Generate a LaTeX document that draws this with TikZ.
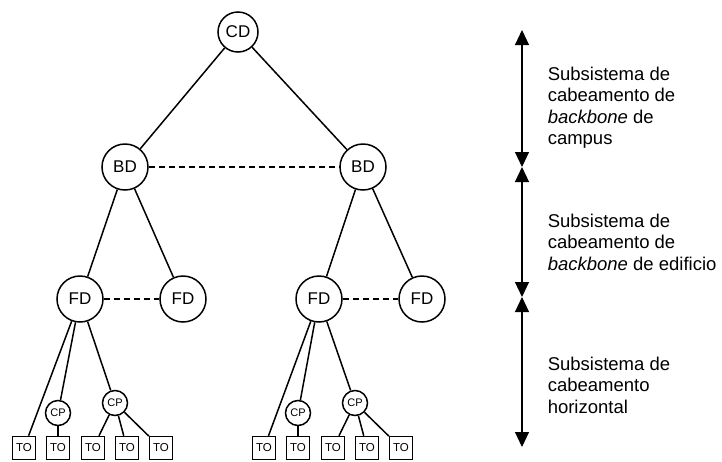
\documentclass[tikz,border=0pt]{standalone}
\usepackage{fontspec}
\setmainfont{Liberation Sans}
\usetikzlibrary{arrows.meta}

\begin{document}
\begin{tikzpicture}[x=1pt, y=-1pt, line width=1.5pt,
  dist/.style={circle, draw, minimum size=46pt, inner sep=0pt,
    font=\fontsize{17}{17}\selectfont},
  cpnode/.style={circle, draw, minimum size=25pt, inner sep=0pt,
    font=\fontsize{11}{11}\selectfont},
  tonode/.style={rectangle, draw, minimum size=23pt, inner sep=0pt,
    font=\fontsize{11.5}{11.5}\selectfont},
  link/.style={draw},
  peer/.style={draw, dash pattern=on 6pt off 4pt},
  span/.style={draw, line width=1.1pt,
    {Triangle[length=15pt,width=14pt]}-{Triangle[length=15pt,width=14pt]}},
  caption/.style={anchor=north west, inner sep=0pt, align=left,
    font=\fontsize{18.5}{21.5}\selectfont}]

\useasboundingbox (0,0) rectangle (722,461);

% campus and building distributors
\node[dist, minimum size=40pt] (cd) at (238,32) {CD};
\node[dist] (bd1) at (125,167) {BD};
\node[dist] (bd2) at (363,167) {BD};

% floor distributors
\node[dist] (fd1) at (80,299) {FD};
\node[dist] (fd2) at (183,299) {FD};
\node[dist] (fd3) at (319,299) {FD};
\node[dist] (fd4) at (422,299) {FD};

% consolidation points
\node[cpnode] (cp1) at (58,413) {CP};
\node[cpnode] (cp2) at (115,403) {CP};
\node[cpnode] (cp3) at (298,413) {CP};
\node[cpnode] (cp4) at (355,403) {CP};

% telecommunication outlets
\node[tonode] (to1) at (24,448) {TO};
\node[tonode] (to2) at (58,448) {TO};
\node[tonode] (to3) at (93,448) {TO};
\node[tonode] (to4) at (127,448) {TO};
\node[tonode] (to5) at (161,448) {TO};
\node[tonode] (to6) at (264,448) {TO};
\node[tonode] (to7) at (298,448) {TO};
\node[tonode] (to8) at (333,448) {TO};
\node[tonode] (to9) at (367,448) {TO};
\node[tonode] (to10) at (401,448) {TO};

% tree links
\draw[link] (cd) -- (bd1);
\draw[link] (cd) -- (bd2);
\draw[link] (bd1) -- (fd1);
\draw[link] (bd1) -- (fd2);
\draw[link] (bd2) -- (fd3);
\draw[link] (bd2) -- (fd4);

\draw[link] (fd1) -- (to1);
\draw[link] (fd1) -- (cp1);
\draw[link] (fd1) -- (cp2);
\draw[link] (cp1) -- (to2);
\draw[link] (cp2) -- (to3);
\draw[link] (cp2) -- (to4);
\draw[link] (cp2) -- (to5);

\draw[link] (fd3) -- (to6);
\draw[link] (fd3) -- (cp3);
\draw[link] (fd3) -- (cp4);
\draw[link] (cp3) -- (to7);
\draw[link] (cp4) -- (to8);
\draw[link] (cp4) -- (to9);
\draw[link] (cp4) -- (to10);

% optional peer links
\draw[peer] (bd1) -- (bd2);
\draw[peer] (fd1) -- (fd2);
\draw[peer] (fd3) -- (fd4);

% subsystem ranges
\coordinate (r0) at (522,30);
\coordinate (r1) at (522,167);
\coordinate (r2) at (522,297);
\coordinate (r3) at (522,447);
\draw[span] (r0) -- (r1);
\draw[span] (r1) -- (r2);
\draw[span] (r2) -- (r3);

\node[caption] (c1) at (547,66) {Subsistema de\\cabeamento de\\\textit{backbone} de\\campus};
\node[caption] (c2) at (547,213) {Subsistema de\\cabeamento de\\\textit{backbone} de edificio};
\node[caption] (c3) at (547,356) {Subsistema de\\cabeamento\\horizontal};

\end{tikzpicture}
\end{document}
